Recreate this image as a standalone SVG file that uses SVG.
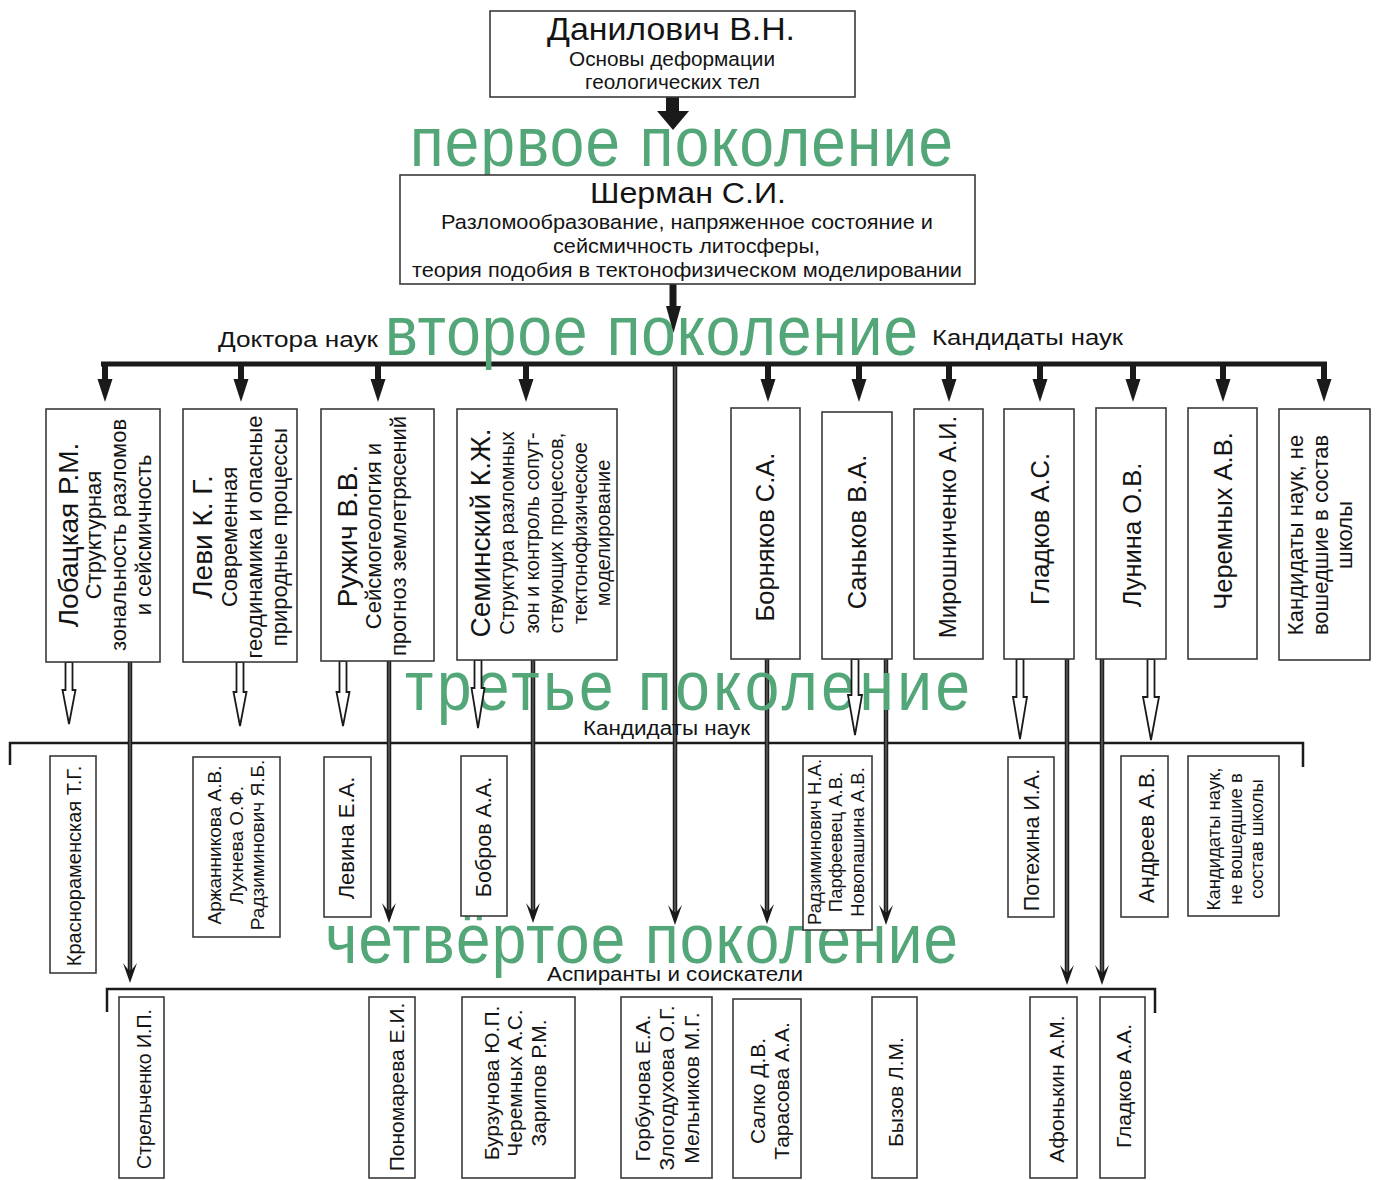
<svg xmlns="http://www.w3.org/2000/svg" width="1376" height="1180" viewBox="0 0 1376 1180">
<style>
.box{fill:#fff;stroke:#3a3a3a;stroke-width:1.6}
.t{font-family:"Liberation Sans",Arial,sans-serif;fill:#141414}
.g{font-family:"Liberation Sans",Arial,sans-serif;fill:#52a678;font-size:62px}
.ln{stroke:#1e1e1e;stroke-width:4.5;fill:none}
.lnc{stroke:#707070;stroke-width:1.1;fill:none}
.bar{stroke:#1a1a1a;stroke-width:5;fill:none}
.br{stroke:#1a1a1a;stroke-width:2.5;fill:none}
.hd{fill:#1a1a1a}
.hol{fill:#fff;stroke:#1a1a1a;stroke-width:1.8}
</style>
<rect width="1376" height="1180" fill="#fff"/>

<g id="connectors">
<path class="br" d="M10,765 V743 H1303 V767"/>
<path class="br" d="M107,1012 V989 H1155 V1013"/>
<path class="bar" d="M101,364 H1327"/>
<g>
<path class="ln" d="M675,366 V915 M130,662 V973 M389,661 V913 M533,660 V913 M767,659 V914 M886,659 V915 M1067,659 V975 M1102,659 V975"/>
<path class="lnc" d="M675,366 V912 M130,662 V970 M389,661 V910 M533,660 V910 M767,659 V911 M886,659 V912 M1067,659 V972 M1102,659 V972"/>
</g>
</g>

<g id="generation-labels">
<text class="g" transform="translate(410,166) scale(1,1.13)" textLength="543" lengthAdjust="spacing">первое поколение</text>
<text class="g" transform="translate(385,355) scale(1,1.13)" textLength="533" lengthAdjust="spacing">второе поколение</text>
<text class="g" transform="translate(405,710) scale(1,1.13)" textLength="565" lengthAdjust="spacing">третье поколение</text>
<text class="g" transform="translate(325,963) scale(1,1.13)" textLength="633" lengthAdjust="spacing">четвёртое поколение</text>
<text class="t" x="218" y="347" font-size="22" textLength="160" lengthAdjust="spacingAndGlyphs">Доктора наук</text>
<text class="t" x="932" y="345" font-size="22" textLength="191" lengthAdjust="spacingAndGlyphs">Кандидаты наук</text>
<text class="t" x="583" y="735" font-size="19.5" textLength="167" lengthAdjust="spacingAndGlyphs">Кандидаты наук</text>
<text class="t" x="547" y="981" font-size="19.5" textLength="256" lengthAdjust="spacingAndGlyphs">Аспиранты и соискатели</text>
</g>

<g id="connector-heads">
<rect class="hd" x="666" y="97" width="13" height="15"/>
<polygon class="hd" points="657,111 689,111 673,130"/>
<rect class="hd" x="669.5" y="284" width="7" height="23"/>
<polygon class="hd" points="666,306 681,306 673.5,333"/>
<g class="hd">
<rect x="102" y="364" width="6" height="17"/><polygon points="97.5,379 112.5,379 105,402"/>
<rect x="238" y="364" width="6" height="17"/><polygon points="233.5,379 248.5,379 241,402"/>
<rect x="375" y="364" width="6" height="17"/><polygon points="370.5,379 385.5,379 378,402"/>
<rect x="523" y="364" width="6" height="17"/><polygon points="518.5,379 533.5,379 526,402"/>
<rect x="765" y="364" width="6" height="17"/><polygon points="760.5,379 775.5,379 768,402"/>
<rect x="856" y="364" width="6" height="17"/><polygon points="851.5,379 866.5,379 859,402"/>
<rect x="946" y="364" width="6" height="17"/><polygon points="941.5,379 956.5,379 949,402"/>
<rect x="1037" y="364" width="6" height="17"/><polygon points="1032.5,379 1047.5,379 1040,402"/>
<rect x="1130" y="364" width="6" height="17"/><polygon points="1125.5,379 1140.5,379 1133,402"/>
<rect x="1220" y="364" width="6" height="17"/><polygon points="1215.5,379 1230.5,379 1223,402"/>
<rect x="1321" y="364" width="6" height="17"/><polygon points="1316.5,379 1331.5,379 1324,402"/>
</g>
<g class="hd">
<path d="M675,925 L668,905 L675,914 L682,905 Z"/>
<path d="M130,983 L123,963 L130,972 L137,963 Z"/>
<path d="M389,923 L382,903 L389,912 L396,903 Z"/>
<path d="M533,923 L526,903 L533,912 L540,903 Z"/>
<path d="M767,924 L760,904 L767,913 L774,904 Z"/>
<path d="M886,925 L879,905 L886,914 L893,905 Z"/>
<path d="M1067,985 L1060,965 L1067,974 L1074,965 Z"/>
<path d="M1102,985 L1095,965 L1102,974 L1109,965 Z"/>
</g>
<polygon class="hol" points="65.5,662 72.5,662 72.5,690 75.5,690 69,724 62.5,690 65.5,690"/>
<polygon class="hol" points="236.5,662 243.5,662 243.5,692 246.5,692 240,726 233.5,692 236.5,692"/>
<polygon class="hol" points="339.5,661 346.5,661 346.5,692 349.5,692 343,726 336.5,692 339.5,692"/>
<polygon class="hol" points="474.5,660 481.5,660 481.5,688 484.5,688 478,728 471.5,688 474.5,688"/>
<polygon class="hol" points="851.5,659 858.5,659 858.5,695 862,695 855,735 848,695 851.5,695"/>
<polygon class="hol" points="1016.5,659 1023.5,659 1023.5,697 1027,697 1020,739 1013,697 1016.5,697"/>
<polygon class="hol" points="1147.5,659 1154.5,659 1154.5,697 1159,697 1151,740 1143,697 1147.5,697"/>
</g>

<g id="n-danilovich">
<rect class="box" x="490" y="11" width="365" height="86"/>
<text class="t" x="547" y="40" font-size="32" textLength="248" lengthAdjust="spacingAndGlyphs">Данилович В.Н.</text>
<text class="t" x="569" y="66" font-size="20.5" textLength="206" lengthAdjust="spacingAndGlyphs">Основы деформации</text>
<text class="t" x="585" y="89" font-size="20.5" textLength="175" lengthAdjust="spacingAndGlyphs">геологических тел</text>
</g>

<g id="n-sherman">
<rect class="box" x="400" y="175" width="575" height="109"/>
<text class="t" x="590" y="203" font-size="30" textLength="196" lengthAdjust="spacingAndGlyphs">Шерман С.И.</text>
<text class="t" x="441" y="229" font-size="20.5" textLength="492" lengthAdjust="spacingAndGlyphs">Разломообразование, напряженное состояние и</text>
<text class="t" x="553" y="253" font-size="20.5" textLength="267" lengthAdjust="spacingAndGlyphs">сейсмичность литосферы,</text>
<text class="t" x="412" y="277" font-size="20.5" textLength="550" lengthAdjust="spacingAndGlyphs">теория подобия в тектонофизическом моделировании</text>
</g>

<g id="n-lobatskaya">
<rect class="box" x="46" y="409" width="114" height="253"/>
<text class="t" font-size="28" text-anchor="middle" transform="translate(78,535) rotate(-90)"><tspan x="0" y="0">Лобацкая Р.М.</tspan><tspan x="0" y="23" font-size="22">Структурная</tspan><tspan x="0" y="48" font-size="22">зональность разломов</tspan><tspan x="0" y="73" font-size="22">и сейсмичность</tspan></text>
</g>
<g id="n-levi">
<rect class="box" x="183" y="409" width="114" height="253"/>
<text class="t" font-size="28" text-anchor="middle" transform="translate(212,537) rotate(-90)"><tspan x="0" y="0">Леви К. Г.</tspan><tspan x="0" y="25" font-size="22">Современная</tspan><tspan x="0" y="50" font-size="22">геодинамика и опасные</tspan><tspan x="0" y="75" font-size="22">природные процессы</tspan></text>
</g>
<g id="n-ruzhich">
<rect class="box" x="321" y="409" width="113" height="252"/>
<text class="t" font-size="28" text-anchor="middle" transform="translate(357,536) rotate(-90)"><tspan x="0" y="0">Ружич В.В.</tspan><tspan x="0" y="24" font-size="22">Сейсмогеология и</tspan><tspan x="0" y="49" font-size="22">прогноз землетрясений</tspan></text>
</g>
<g id="n-seminsky">
<rect class="box" x="457" y="409" width="160" height="251"/>
<text class="t" font-size="28" text-anchor="middle" transform="translate(490,533) rotate(-90)"><tspan x="0" y="0">Семинский К.Ж.</tspan><tspan x="0" y="24" font-size="20">Структура разломных</tspan><tspan x="0" y="49" font-size="20">зон и контроль сопут-</tspan><tspan x="0" y="73" font-size="20">ствующих процессов,</tspan><tspan x="0" y="97" font-size="20">тектонофизическое</tspan><tspan x="0" y="120" font-size="20">моделирование</tspan></text>
</g>
<g id="n-bornyakov">
<rect class="box" x="731" y="408" width="69" height="251"/>
<text class="t" font-size="25.5" text-anchor="middle" transform="translate(774,537) rotate(-90)">Борняков С.А.</text>
</g>
<g id="n-sankov">
<rect class="box" x="822" y="412" width="70" height="247"/>
<text class="t" font-size="25.5" text-anchor="middle" transform="translate(866,532) rotate(-90)">Саньков В.А.</text>
</g>
<g id="n-miroshnichenko">
<rect class="box" x="914" y="409" width="69" height="250"/>
<text class="t" font-size="24" text-anchor="middle" transform="translate(956,527) rotate(-90)">Мирошниченко А.И.</text>
</g>
<g id="n-gladkov-as">
<rect class="box" x="1004" y="409" width="70" height="250"/>
<text class="t" font-size="25.5" text-anchor="middle" transform="translate(1049,529) rotate(-90)">Гладков А.С.</text>
</g>
<g id="n-lunina">
<rect class="box" x="1096" y="408" width="70" height="251"/>
<text class="t" font-size="25.5" text-anchor="middle" transform="translate(1141,535) rotate(-90)">Лунина О.В.</text>
</g>
<g id="n-cheremnykh-av">
<rect class="box" x="1188" y="408" width="69" height="251"/>
<text class="t" font-size="25.5" text-anchor="middle" transform="translate(1232,521) rotate(-90)">Черемных А.В.</text>
</g>
<g id="n-cand-outside-2">
<rect class="box" x="1279" y="409" width="91" height="251"/>
<text class="t" font-size="22" text-anchor="middle" transform="translate(1303,535) rotate(-90)"><tspan x="0" y="0">Кандидаты наук, не</tspan><tspan x="0" y="25">вошедшие в состав</tspan><tspan x="0" y="49">школы</tspan></text>
</g>

<g id="n-krasnoramenskaya">
<rect class="box" x="50" y="756" width="46" height="217"/>
<text class="t" font-size="20" text-anchor="middle" transform="translate(81,866) rotate(-90)">Краснораменская Т.Г.</text>
</g>
<g id="n-arzhannikova">
<rect class="box" x="193" y="757" width="87" height="180"/>
<text class="t" font-size="19" text-anchor="middle" transform="translate(221,845) rotate(-90)"><tspan x="0" y="0">Аржанникова А.В.</tspan><tspan x="0" y="22">Лухнева О.Ф.</tspan><tspan x="0" y="43">Радзиминович Я.Б.</tspan></text>
</g>
<g id="n-levina">
<rect class="box" x="324" y="757" width="47" height="160"/>
<text class="t" font-size="22" text-anchor="middle" transform="translate(354,838) rotate(-90)">Левина Е.А.</text>
</g>
<g id="n-bobrov">
<rect class="box" x="461" y="756" width="46" height="160"/>
<text class="t" font-size="21.5" text-anchor="middle" transform="translate(491,837) rotate(-90)">Бобров А.А.</text>
</g>
<g id="n-radziminovich-na">
<rect class="box" x="803" y="756" width="69" height="174"/>
<text class="t" font-size="18.5" text-anchor="middle" transform="translate(821,842) rotate(-90)"><tspan x="0" y="0">Радзиминович Н.А.</tspan><tspan x="0" y="21">Парфеевец А.В.</tspan><tspan x="0" y="43">Новопашина А.В.</tspan></text>
</g>
<g id="n-potekhina">
<rect class="box" x="1008" y="757" width="46" height="160"/>
<text class="t" font-size="21.5" text-anchor="middle" transform="translate(1039,840) rotate(-90)">Потехина И.А.</text>
</g>
<g id="n-andreev">
<rect class="box" x="1121" y="756" width="47" height="161"/>
<text class="t" font-size="22" text-anchor="middle" transform="translate(1154,835) rotate(-90)">Андреев А.В.</text>
</g>
<g id="n-cand-outside-3">
<rect class="box" x="1188" y="756" width="91" height="160"/>
<text class="t" font-size="18.5" text-anchor="middle" transform="translate(1220,839) rotate(-90)"><tspan x="0" y="0">Кандидаты наук,</tspan><tspan x="0" y="22">не вошедшие в</tspan><tspan x="0" y="43">состав школы</tspan></text>
</g>

<g id="n-strelchenko">
<rect class="box" x="119" y="997" width="45" height="181"/>
<text class="t" font-size="19.5" text-anchor="middle" transform="translate(151,1089) rotate(-90)">Стрельченко И.П.</text>
</g>
<g id="n-ponomareva">
<rect class="box" x="369" y="997" width="46" height="181"/>
<text class="t" font-size="21" text-anchor="middle" transform="translate(404,1087) rotate(-90)">Пономарева Е.И.</text>
</g>
<g id="n-burzunova">
<rect class="box" x="462" y="997" width="113" height="181"/>
<text class="t" font-size="21" text-anchor="middle" transform="translate(499,1083) rotate(-90)"><tspan x="0" y="0">Бурзунова Ю.П.</tspan><tspan x="0" y="23">Черемных А.С.</tspan><tspan x="0" y="47">Зарипов Р.М.</tspan></text>
</g>
<g id="n-gorbunova">
<rect class="box" x="621" y="997" width="91" height="181"/>
<text class="t" font-size="21" text-anchor="middle" transform="translate(650,1088) rotate(-90)"><tspan x="0" y="0">Горбунова Е.А.</tspan><tspan x="0" y="24">Злогодухова О.Г.</tspan><tspan x="0" y="49">Мельников М.Г.</tspan></text>
</g>
<g id="n-salko">
<rect class="box" x="733" y="999" width="68" height="179"/>
<text class="t" font-size="21" text-anchor="middle" transform="translate(765,1091) rotate(-90)"><tspan x="0" y="0">Салко Д.В.</tspan><tspan x="0" y="24">Тарасова А.А.</tspan></text>
</g>
<g id="n-byzov">
<rect class="box" x="872" y="997" width="45" height="181"/>
<text class="t" font-size="21" text-anchor="middle" transform="translate(903,1092) rotate(-90)">Бызов Л.М.</text>
</g>
<g id="n-afonkin">
<rect class="box" x="1030" y="997" width="47" height="181"/>
<text class="t" font-size="21" text-anchor="middle" transform="translate(1064,1089) rotate(-90)">Афонькин А.М.</text>
</g>
<g id="n-gladkov-aa">
<rect class="box" x="1100" y="997" width="45" height="181"/>
<text class="t" font-size="21" text-anchor="middle" transform="translate(1131,1086) rotate(-90)">Гладков А.А.</text>
</g>
</svg>
